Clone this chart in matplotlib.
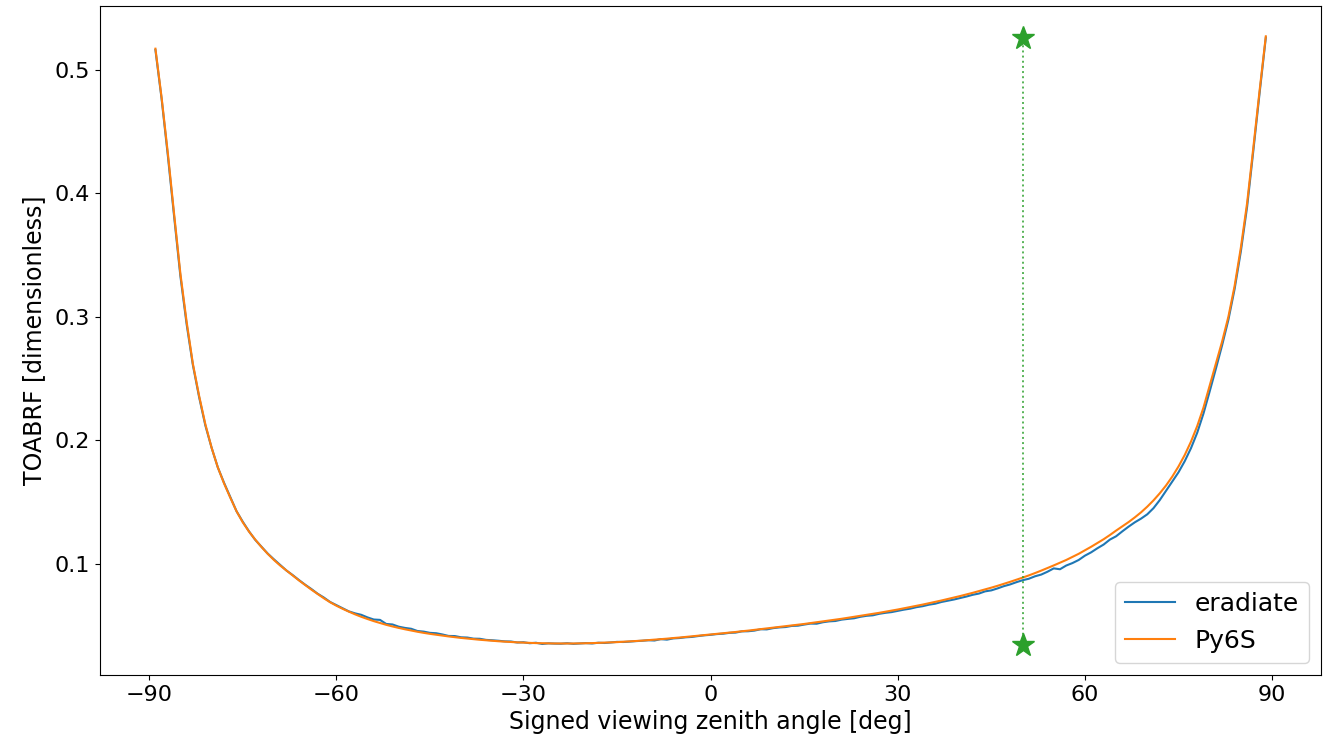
import numpy as np
import matplotlib
matplotlib.use("Agg")
import matplotlib.pyplot as plt

plt.rcParams['font.size'] = 16

# signed viewing zenith angle, 1 deg steps
vza = list(range(-89, 90))

py6s = [
    0.517, 0.477, 0.432, 0.383, 0.335, 0.296, 0.262, 0.236, 0.213, 0.194,
    0.178, 0.165, 0.1535, 0.1425, 0.1335, 0.1260, 0.1195, 0.1135, 0.1080, 0.1030,
    0.0985, 0.0945, 0.0905, 0.0865, 0.0827, 0.0790, 0.0755, 0.0720, 0.0688, 0.0660,
    0.0635, 0.0612, 0.0590, 0.0570, 0.0552, 0.0535, 0.0520, 0.0505, 0.0492, 0.0480,
    0.0469, 0.0459, 0.0449, 0.0440, 0.0432, 0.0425, 0.0418, 0.0411, 0.0405, 0.0399,
    0.0394, 0.0389, 0.0384, 0.0380, 0.0376, 0.0372, 0.0369, 0.0366, 0.0363, 0.0361,
    0.0359, 0.0357, 0.0356, 0.0355, 0.0354, 0.0354, 0.0354, 0.0354, 0.0355, 0.0356,
    0.0357, 0.0359, 0.0361, 0.0363, 0.0365, 0.0368, 0.0371, 0.0374, 0.0377, 0.0381,
    0.0385, 0.0389, 0.0393, 0.0398, 0.0402, 0.0407, 0.0412, 0.0417, 0.0422, 0.0427,
    0.0432, 0.0437, 0.0442, 0.0447, 0.0453, 0.0458, 0.0464, 0.0470, 0.0476, 0.0482,
    0.0488, 0.0494, 0.0500, 0.0506, 0.0512, 0.0519, 0.0526, 0.0533, 0.0540, 0.0547,
    0.0554, 0.0562, 0.0570, 0.0578, 0.0586, 0.0594, 0.0602, 0.0611, 0.0620, 0.0629,
    0.0639, 0.0649, 0.0659, 0.0669, 0.0680, 0.0691, 0.0702, 0.0714, 0.0726, 0.0738,
    0.0751, 0.0764, 0.0778, 0.0792, 0.0806, 0.0821, 0.0837, 0.0853, 0.0870, 0.0887,
    0.0905, 0.0924, 0.0944, 0.0965, 0.0986, 0.1008, 0.1030, 0.1055, 0.1080, 0.1108,
    0.1137, 0.1167, 0.1198, 0.1232, 0.1268, 0.1302, 0.1337, 0.1375, 0.1416, 0.1462,
    0.1513, 0.1570, 0.1633, 0.1705, 0.1787, 0.1880, 0.1988, 0.2114, 0.2263, 0.2443,
    0.2620, 0.2800, 0.3000, 0.3250, 0.3560, 0.3920, 0.4370, 0.4830, 0.5270,
]

eradiate = [
    0.516, 0.476, 0.430, 0.381, 0.333, 0.294, 0.261, 0.235, 0.212, 0.194,
    0.178, 0.1655, 0.1540, 0.1425, 0.1340, 0.1262, 0.1193, 0.1138, 0.1082, 0.1035,
    0.0990, 0.0945, 0.0908, 0.0868, 0.0830, 0.0795, 0.0757, 0.0726, 0.0690, 0.0665,
    0.0640, 0.0614, 0.0598, 0.0586, 0.0565, 0.0548, 0.0545, 0.0512, 0.0508, 0.0490,
    0.0480, 0.0473, 0.0455, 0.0450, 0.0440, 0.0437, 0.0427, 0.0415, 0.0414, 0.0404,
    0.0402, 0.0393, 0.0392, 0.0383, 0.0380, 0.0376, 0.0371, 0.0370, 0.0362, 0.0364,
    0.0356, 0.0360, 0.0350, 0.0355, 0.0353, 0.0352, 0.0356, 0.0351, 0.0354, 0.0357,
    0.0354, 0.0360, 0.0358, 0.0362, 0.0367, 0.0366, 0.0369, 0.0373, 0.0376, 0.0380,
    0.0378, 0.0389, 0.0385, 0.0395, 0.0398, 0.0404, 0.0407, 0.0414, 0.0420, 0.0424,
    0.0430, 0.0433, 0.0440, 0.0442, 0.0452, 0.0453, 0.0458, 0.0469, 0.0468, 0.0478,
    0.0484, 0.0487, 0.0496, 0.0498, 0.0507, 0.0515, 0.0514, 0.0526, 0.0533, 0.0536,
    0.0547, 0.0553, 0.0558, 0.0570, 0.0578, 0.0582, 0.0594, 0.0602, 0.0608, 0.0618,
    0.0628, 0.0636, 0.0648, 0.0656, 0.0668, 0.0676, 0.0690, 0.0700, 0.0710, 0.0722,
    0.0734, 0.0748, 0.0758, 0.0776, 0.0784, 0.0800, 0.0818, 0.0832, 0.0850, 0.0866,
    0.0878, 0.0898, 0.0912, 0.0935, 0.0962, 0.0955, 0.0985, 0.1005, 0.1030, 0.1065,
    0.1092, 0.1125, 0.1155, 0.1195, 0.1222, 0.1262, 0.1300, 0.1335, 0.1365, 0.1400,
    0.1450, 0.1515, 0.1590, 0.1665, 0.1740, 0.1830, 0.1935, 0.2060, 0.2215, 0.2395,
    0.2580, 0.2770, 0.2975, 0.3225, 0.3530, 0.3890, 0.4345, 0.4810, 0.5260,
]

# marker for the highlighted direction
star_x = [50, 50]
star_y = [0.0345, 0.526]

fig = plt.figure(figsize=(13.32, 7.39), dpi=100)
ax = fig.add_axes([0.075, 0.0866, 0.917, 0.9054])

ax.plot(vza, eradiate, label="eradiate")
ax.plot(vza, py6s, label="Py6S")
ax.plot(star_x, star_y, color="C2", linestyle=":", linewidth=1.4, alpha=0.8)
ax.plot(star_x, star_y, color="C2", linestyle="none", marker="*", markersize=17)

ax.set_xticks([-90, -60, -30, 0, 30, 60, 90])
ax.set_xlabel("Signed viewing zenith angle [deg]", fontsize=17)
ax.set_ylabel("TOABRF [dimensionless]", fontsize=17, labelpad=6)
ax.legend(loc="lower right", fontsize=18)

fig.savefig("out.png")
